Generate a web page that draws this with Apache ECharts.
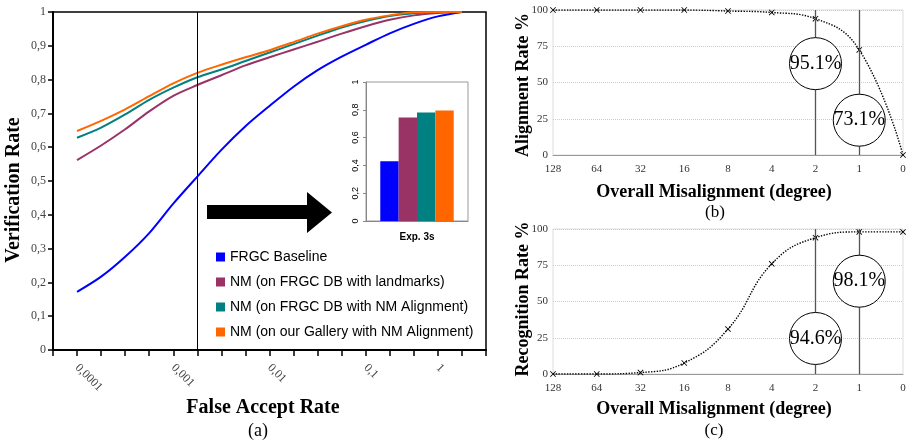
<!DOCTYPE html>
<html><head><meta charset="utf-8">
<script src="https://cdn.jsdelivr.net/npm/echarts@6/dist/echarts.min.js"></script>
<style>html,body{margin:0;padding:0;background:#fff}#c{width:910px;height:443px}</style>
</head><body><div id="c"></div><script>
// ---- data (a) ----
const farPos = [1,2,3,4,5,6,7,8,9,10,11,12,13,14,15,16,17];
const farTickPos = [1,5,9,13,16];
const farTickText = ['0,0001','0,001','0,01','0,1','1'];
const frgcBaseline   = [0.172,0.217,0.276,0.346,0.433,0.513,0.592,0.662,0.722,0.779,0.828,0.868,0.903,0.937,0.965,0.987,1.0];
const nmLandmarks    = [0.562,0.605,0.653,0.706,0.752,0.784,0.813,0.842,0.866,0.889,0.912,0.936,0.958,0.977,0.990,0.997,1.0];
const nmFrgcAlign    = [0.628,0.658,0.697,0.740,0.776,0.807,0.830,0.855,0.880,0.905,0.930,0.954,0.973,0.988,0.996,1.0,1.0];
const nmGalleryAlign = [0.648,0.678,0.712,0.751,0.789,0.820,0.844,0.866,0.887,0.911,0.936,0.958,0.977,0.990,0.999,1.0,1.0];
const seriesNames = ['FRGC Baseline','NM (on FRGC DB with landmarks)','NM (on FRGC DB with NM Alignment)','NM (on our Gallery with NM Alignment)'];
const seriesColors = ['#0000FF','#993366','#008080','#FF6600'];
const insetCategory = ['Exp. 3s'];
const insetValues = [0.43,0.745,0.78,0.795];
// ---- data (b), (c) ----
const misalignCats = ['128','64','32','16','8','4','2','1','0'];
const alignRate = [100,100,100,100,99.3,98.3,94,72.5,0];
const recogRate = [0,0,1,7.6,31,76,94,98,98];
const alignNoteText = ['95.1%','73.1%'];
const recogNoteText = ['94.6%','98.1%'];

const serif = 'Liberation Serif';
const sans = 'Liberation Sans';
const curves = [frgcBaseline, nmLandmarks, nmFrgcAlign, nmGalleryAlign];
const comma = v => (v === 0 ? '0' : v === 1 ? '1' : String(Math.round(v*10)/10).replace('.', ','));
const xSym = 'path://M0,1L1,0L5,4L9,0L10,1L6,5L10,9L9,10L5,6L1,10L0,9L4,5Z';

const chart = echarts.init(document.getElementById('c'), null, {renderer:'canvas'});

function rightAxes(gi){
  return {
    x: {type:'category', gridIndex:gi, data:misalignCats, boundaryGap:false,
        axisLine:{lineStyle:{color:'#999'}}, axisTick:{show:false},
        axisLabel:{fontFamily:serif, fontSize:11, color:'#333', margin:9}},
    y: {type:'value', gridIndex:gi, min:0, max:100, interval:25,
        axisLine:{show:false}, axisTick:{show:false},
        axisLabel:{fontFamily:serif, fontSize:11, color:'#333', margin:5},
        splitLine:{lineStyle:{color:'#ccc', type:'dotted'}}}
  };
}
const rb = rightAxes(2), rc = rightAxes(3);

function notePoints(texts, ys){
  return texts.map((t,i)=>({
    coord:[misalignCats.indexOf(i===0?'2':'1'), ys[i]], value:t
  }));
}
function rightSeries(gi, data, texts, ys){
  return [
    {type:'line', xAxisIndex:gi, yAxisIndex:gi, data:[], silent:true, z:1,
     markLine:{silent:true, symbol:['none','none'], label:{show:false},
       lineStyle:{color:'#555', width:1.3, type:'solid'},
       data:[{xAxis:misalignCats.indexOf('2')},{xAxis:misalignCats.indexOf('1')}]}},
    {type:'line', xAxisIndex:gi, yAxisIndex:gi, data:data, smooth:0.45, z:3,
     lineStyle:{color:'#000', width:1.4, type:'dotted'},
     symbol:xSym, symbolSize:6, itemStyle:{color:'#000'},
     markPoint:{silent:true, symbol:'circle', symbolSize:52,
       itemStyle:{color:'#fff', borderColor:'#000', borderWidth:1},
       label:{show:true, position:'inside', formatter:p=>p.value, color:'#000', fontFamily:serif, fontSize:20},
       data:notePoints(texts, ys)}}
  ];
}

const gText = (text, x, y, size, bold, rot) => ({
  type:'text', x:x, y:y, rotation:rot||0, silent:true,
  style:{text:text, font:(bold?'bold ':'')+size+'px "'+serif+'"', fill:'#000',
         textAlign:'center', textVerticalAlign:'middle', align:'center', verticalAlign:'middle'}
});

const option = {
  animation:false,
  backgroundColor:'#fff',
  grid:[
    {left:53, top:12, right:424, bottom:93, show:true, borderColor:'#000', borderWidth:1.5, containLabel:false},
    {left:366, top:82, right:442, bottom:222, show:true, borderColor:'#999', borderWidth:1, backgroundColor:'#fff'},
    {left:553, top:10, right:7, bottom:288, show:true, borderColor:'#ddd', borderWidth:1},
    {left:553, top:229, right:7, bottom:69, show:true, borderColor:'#ddd', borderWidth:1}
  ],
  legend:{
    data:seriesNames, orient:'vertical', left:211, top:244, icon:'rect',
    itemWidth:9, itemHeight:9, itemGap:9, selectedMode:false,
    textStyle:{fontFamily:sans, fontSize:14, color:'#000', lineHeight:16}
  },
  xAxis:[
    {type:'value', gridIndex:0, min:0, max:18, interval:1,
     axisLine:{lineStyle:{color:'#000', width:2}},
     axisTick:{show:true, length:6, lineStyle:{color:'#000', width:1.5}},
     splitLine:{show:false},
     axisLabel:{rotate:-45, margin:16, fontFamily:serif, fontSize:12, color:'#444',
       formatter:v=>{const i=farTickPos.indexOf(v); return i>=0?farTickText[i]:'';}}},
    {type:'category', gridIndex:1, data:insetCategory,
     axisLine:{lineStyle:{color:'#888'}}, axisTick:{show:false},
     axisLabel:{fontFamily:sans, fontSize:10, fontWeight:'bold', color:'#000', margin:11}},
    rb.x, rc.x
  ],
  yAxis:[
    {type:'value', gridIndex:0, min:0, max:1, interval:0.1,
     axisLine:{lineStyle:{color:'#000', width:2}},
     axisTick:{show:true, length:5, lineStyle:{color:'#000', width:1.5}},
     splitLine:{show:false},
     axisLabel:{fontFamily:serif, fontSize:12, color:'#444', margin:7, formatter:comma}},
    {type:'value', gridIndex:1, min:0, max:1, interval:0.2,
     axisLine:{show:true, lineStyle:{color:'#888'}},
     axisTick:{show:true, length:3, lineStyle:{color:'#888'}},
     splitLine:{show:false},
     axisLabel:{rotate:90, fontFamily:sans, fontSize:9, color:'#000', margin:6, formatter:comma}},
    rb.y, rc.y
  ],
  series:[
    ...curves.map((c,i)=>({
      type:'line', name:seriesNames[i], xAxisIndex:0, yAxisIndex:0,
      data:farPos.map((x,j)=>[x,c[j]]), smooth:0.3, showSymbol:false, symbol:'none',
      lineStyle:{color:seriesColors[i], width:2}, itemStyle:{color:seriesColors[i]}, z:2,
      markLine: i===0 ? {silent:true, symbol:['none','none'], label:{show:false},
        lineStyle:{color:'#000', width:1, type:'solid'}, data:[{xAxis:6}]} : undefined
    })),
    ...insetValues.map((v,i)=>({
      type:'bar', name:seriesNames[i], xAxisIndex:1, yAxisIndex:1, data:[v],
      barGap:'0%', barCategoryGap:'28%', itemStyle:{color:seriesColors[i]}, z:4
    })),
    ...rightSeries(2, alignRate, alignNoteText, [63,24]),
    ...rightSeries(3, recogRate, recogNoteText, [24.5,64])
  ],
  graphic:[
    {type:'polygon', silent:true, shape:{points:[[207,205],[307,205],[307,192],[332,212.5],[307,233],[307,219],[207,219]]}, style:{fill:'#000'}},
    gText('Verification Rate', 14, 190, 20, true, Math.PI/2),
    gText('False Accept Rate', 263, 408, 20, true),
    gText('(a)', 258, 431, 18, false),
    gText('Alignment Rate %', 523, 85, 18, true, Math.PI/2),
    gText('Overall Misalignment (degree)', 714, 192, 18, true),
    gText('(b)', 715, 213, 17, false),
    gText('Recognition Rate %', 523, 299, 18, true, Math.PI/2),
    gText('Overall Misalignment (degree)', 714, 409, 18, true),
    gText('(c)', 714, 431, 17, false)
  ]
};
chart.setOption(option);
</script></body></html>
